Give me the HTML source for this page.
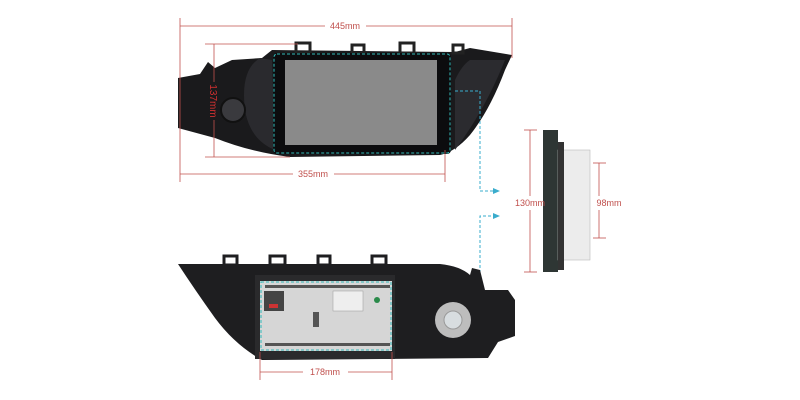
<!DOCTYPE html>
<html><head><meta charset="utf-8"><style>
html,body{margin:0;padding:0;background:#fff;}
svg{display:block;}
text{font-family:"Liberation Sans",sans-serif;font-size:9px;fill:#c0504d;}
</style></head><body>
<svg width="800" height="400" viewBox="0 0 800 400" xmlns="http://www.w3.org/2000/svg">
<!-- top unit body -->
<path d="M178 78 L200 74 L208 62 L215 68 L232 60 L262 58 L272 50 L455 52 L470 48 L512 55 L505 70 Q490 110 470 135 Q455 152 440 155 L290 157 Q250 152 215 138 L178 128 Z" fill="#1a1a1c"/>
<path d="M260 58 Q240 70 245 110 Q250 140 275 150 L272 60 Z" fill="#2a2a2e"/>
<path d="M470 60 L505 60 Q485 110 455 150 L455 80 Q462 65 470 60 Z" fill="#2b2b2f"/>
<rect x="296" y="43" width="14" height="10" fill="none" stroke="#222" stroke-width="3"/>
<rect x="352" y="45" width="12" height="8" fill="none" stroke="#222" stroke-width="3"/>
<rect x="400" y="43" width="14" height="10" fill="none" stroke="#222" stroke-width="3"/>
<rect x="453" y="45" width="10" height="8" fill="none" stroke="#222" stroke-width="3"/>
<circle cx="233" cy="110" r="12" fill="#3a3a3e" stroke="#111" stroke-width="2"/>
<rect x="273" y="53" width="178" height="101" rx="4" fill="#0c0c0e"/>
<rect x="285" y="60" width="152" height="85" fill="#8a8a8a"/>
<rect x="274" y="54" width="176" height="99" rx="3" fill="none" stroke="#3bb" stroke-width="1" stroke-dasharray="3,2"/>
<!-- dims top -->
<g stroke="#c0504d" stroke-width="0.8" fill="none">
<line x1="180" y1="18" x2="180" y2="182"/><line x1="512" y1="18" x2="512" y2="58"/>
<line x1="180" y1="26" x2="325" y2="26"/><line x1="366" y1="26" x2="512" y2="26"/>
<line x1="205" y1="44" x2="298" y2="44"/><line x1="205" y1="157" x2="290" y2="157"/>
<line x1="214" y1="44" x2="214" y2="82"/><line x1="214" y1="120" x2="214" y2="157"/>
<line x1="445" y1="150" x2="445" y2="182"/>
<line x1="180" y1="174" x2="293" y2="174"/><line x1="334" y1="174" x2="445" y2="174"/>
</g>
<text x="345" y="29" text-anchor="middle">445mm</text>
<text x="313" y="177" text-anchor="middle">355mm</text>
<text transform="translate(210,101) rotate(90)" text-anchor="middle" style="font-size:10px;fill:#d03030">137mm</text>
<!-- cyan connectors -->
<g stroke="#3aaccc" stroke-width="1" fill="none" stroke-dasharray="3,2">
<polyline points="455,91 480,91 480,191 496,191"/>
<polyline points="496,216 480,216 480,318 390,318"/>
</g>
<path d="M500 191 L493 188 L493 194 Z M500 216 L493 213 L493 219 Z" fill="#3aaccc"/>
<!-- side view -->
<rect x="543" y="130" width="15" height="142" fill="#2e3634"/>
<rect x="558" y="150" width="32" height="110" fill="#ececec" stroke="#bbb" stroke-width="0.6"/>
<rect x="558" y="142" width="6" height="128" fill="#333"/>
<g stroke="#c0504d" stroke-width="0.8">
<line x1="530" y1="130" x2="530" y2="196"/><line x1="530" y1="210" x2="530" y2="272"/>
<line x1="524" y1="130" x2="537" y2="130"/><line x1="524" y1="272" x2="537" y2="272"/>
<line x1="599" y1="163" x2="599" y2="196"/><line x1="599" y1="210" x2="599" y2="238"/>
<line x1="593" y1="163" x2="606" y2="163"/><line x1="593" y1="238" x2="606" y2="238"/>
</g>
<text x="530" y="206" text-anchor="middle">130mm</text>
<text x="609" y="206" text-anchor="middle">98mm</text>
<!-- bottom unit -->
<path d="M178 264 L440 264 Q460 266 470 275 L472 268 L480 270 L485 290 L508 290 L515 300 L515 336 L498 342 L488 358 L262 360 Q235 345 215 318 Q195 290 178 264 Z" fill="#1e1e20"/>
<g fill="none" stroke="#1e1e20" stroke-width="3">
<rect x="224" y="256" width="13" height="9"/><rect x="270" y="256" width="15" height="9"/>
<rect x="318" y="256" width="12" height="9"/><rect x="372" y="256" width="14" height="9"/>
</g>
<rect x="255" y="275" width="140" height="84" fill="#2a2a2c"/>
<rect x="260" y="281" width="132" height="70" fill="#d6d6d6"/>
<rect x="264" y="291" width="20" height="20" fill="#444"/>
<rect x="269" y="304" width="9" height="4" fill="#c33"/>
<rect x="333" y="291" width="30" height="20" fill="#eee" stroke="#999" stroke-width="0.5"/>
<g fill="#555"><rect x="265" y="285" width="125" height="3"/><rect x="265" y="343" width="125" height="3"/><rect x="313" y="312" width="6" height="15"/></g>
<circle cx="377" cy="300" r="3" fill="#2a8a4a"/>
<rect x="261" y="282" width="130" height="68" fill="none" stroke="#3bb" stroke-width="1" stroke-dasharray="3,2"/>
<circle cx="453" cy="320" r="18" fill="#bdbdbd"/>
<circle cx="453" cy="320" r="9" fill="#d8dde0" stroke="#999" stroke-width="1"/>
<g stroke="#c0504d" stroke-width="0.8">
<line x1="260" y1="352" x2="260" y2="380"/><line x1="392" y1="352" x2="392" y2="380"/>
<line x1="260" y1="372" x2="303" y2="372"/><line x1="348" y1="372" x2="392" y2="372"/>
</g>
<text x="325" y="375" text-anchor="middle">178mm</text>
</svg>
</body></html>
